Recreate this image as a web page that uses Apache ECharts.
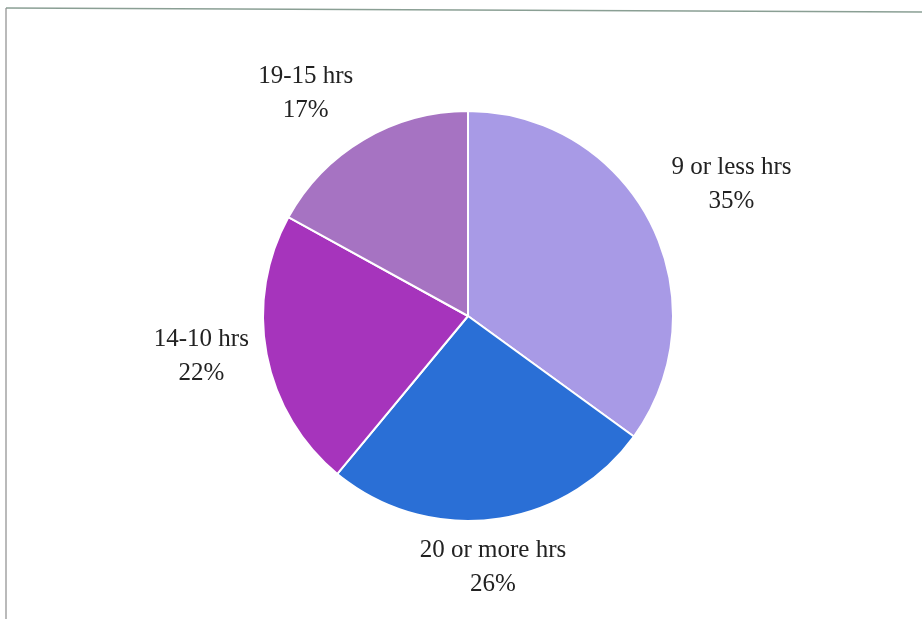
<!DOCTYPE html>
<html>
<head>
<meta charset="utf-8">
<script src="https://cdn.jsdelivr.net/npm/echarts@6/dist/echarts.min.js"></script>
<style>
  html, body { margin: 0; padding: 0; background: #ffffff; }
  #chart { width: 922px; height: 619px; }
</style>
</head>
<body>
<div id="chart"></div>
<script>
// Weekly hours categories, clockwise from 12 o'clock
const categories = ['9 or less hrs', '20 or more hrs', '14-10 hrs', '19-15 hrs'];
const shares = [35, 26, 22, 17];
const sliceColors = ['#a89ae6', '#2a6fd6', '#a634bc', '#a673c2'];
// small hand adjustments to label placement (px), per slice
const labelNudge = [[5, -12], [-13, -10], [6, -9], [-21, 5]];

const cx = 468, cy = 316, radius = 205, labelGap = 25;
const total = shares.reduce((a, b) => a + b, 0);

// mid-angle of each slice (radians, clockwise from top)
const midAngles = [];
let acc = 0;
shares.forEach(v => {
  midAngles.push(((acc + v / 2) / total) * Math.PI * 2);
  acc += v;
});

const chart = echarts.init(document.getElementById('chart'), null, { renderer: 'canvas' });

chart.setOption({
  backgroundColor: '#ffffff',
  animation: false,
  graphic: [
    { type: 'line', shape: { x1: 6, y1: 8, x2: 922, y2: 12 },
      style: { stroke: '#8a9f94', lineWidth: 1.5 } },
    { type: 'line', shape: { x1: 6, y1: 8, x2: 6, y2: 619 },
      style: { stroke: '#8c8c8c', lineWidth: 1.2 } }
  ],
  series: [{
    type: 'pie',
    center: [cx, cy],
    radius: radius,
    startAngle: 90,
    clockwise: true,
    avoidLabelOverlap: false,
    data: categories.map((name, i) => ({
      name: name,
      value: shares[i],
      itemStyle: { color: sliceColors[i] }
    })),
    itemStyle: { borderColor: '#ffffff', borderWidth: 2 },
    label: {
      show: true,
      position: 'outside',
      formatter: p => p.name + '\n' + p.value + '%',
      fontFamily: '"Liberation Serif", "Times New Roman", serif',
      fontSize: 25,
      lineHeight: 34,
      color: '#222222',
      align: 'center'
    },
    labelLine: { show: false },
    labelLayout: params => {
      const i = params.dataIndex;
      const a = midAngles[i];
      const ux = Math.sin(a), uy = -Math.cos(a);
      const w = params.labelRect.width, h = params.labelRect.height;
      return {
        x: cx + (radius + labelGap) * ux + ux * w / 2 + labelNudge[i][0],
        y: cy + (radius + labelGap) * uy + uy * h / 2 + labelNudge[i][1],
        align: 'center',
        verticalAlign: 'middle'
      };
    },
    emphasis: { disabled: true }
  }]
});
</script>
</body>
</html>
